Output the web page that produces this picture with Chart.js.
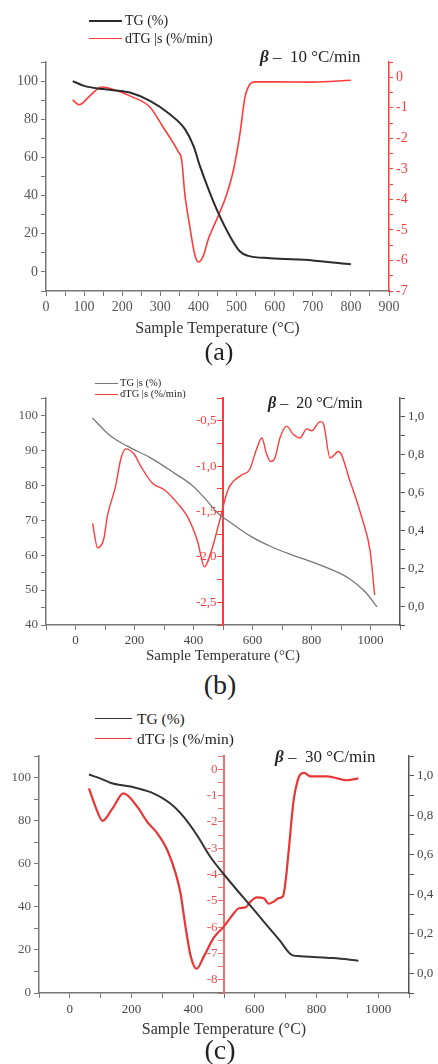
<!DOCTYPE html>
<html><head><meta charset="utf-8">
<script src="https://cdn.jsdelivr.net/npm/chart.js@4"></script>
<style>
html,body{margin:0;padding:0;background:#fff;}
body{width:438px;height:1064px;position:relative;overflow:hidden;font-family:'Liberation Serif','Times New Roman',serif;}
canvas{position:absolute;left:0;}
.t{position:absolute;white-space:nowrap;line-height:1;color:#222;transform:translateY(-50%);z-index:2;}
.c{transform:translate(-50%,-50%);}
.lg{position:absolute;height:0;z-index:2;}
.b{font-weight:bold;font-style:italic;}
</style></head><body>
<canvas id="ca"></canvas>
<canvas id="cb"></canvas>
<canvas id="cc"></canvas>

<!-- panel a texts -->
<div class="lg" style="left:89px;top:20px;width:33px;border-top:2px solid #2b2b2b"></div>
<div class="t" style="left:125px;top:21px;font-size:14px">TG (%)</div>
<div class="lg" style="left:89px;top:38px;width:33px;border-top:1.5px solid #ff3b3b"></div>
<div class="t" style="left:125px;top:39px;font-size:14px">dTG |s (%/min)</div>
<div class="t" style="left:260px;top:56px;font-size:17px"><span class="b">β</span> –&nbsp; 10 °C/min</div>
<div class="t c" style="left:219px;top:352px;font-size:26px">(a)</div>

<!-- panel b texts -->
<div class="lg" style="left:95px;top:383px;width:23px;border-top:1px solid #777"></div>
<div class="t" style="left:120px;top:383px;font-size:10.5px">TG |s (%)</div>
<div class="lg" style="left:95px;top:394px;width:23px;border-top:1px solid #ff3b3b"></div>
<div class="t" style="left:120px;top:394px;font-size:10.5px">dTG |s (%/min)</div>
<div class="t" style="left:268px;top:403px;font-size:16px"><span class="b">β</span> –&nbsp; 20 °C/min</div>
<div class="t c" style="left:220px;top:685px;font-size:28px">(b)</div>

<!-- panel c texts -->
<div class="lg" style="left:95px;top:718px;width:37px;border-top:1px solid #333"></div>
<div class="t" style="left:137px;top:719px;font-size:15.5px">TG (%)</div>
<div class="lg" style="left:95px;top:738px;width:37px;border-top:1px solid #e33"></div>
<div class="t" style="left:137px;top:739px;font-size:15.5px">dTG |s (%/min)</div>
<div class="t" style="left:275px;top:756px;font-size:17px"><span class="b">β</span> –&nbsp; 30 °C/min</div>
<div class="t c" style="left:220px;top:1050px;font-size:28px">(c)</div>

<script>
// ---------- DATA ----------
// Panel (a) beta = 10 °C/min
const tA_TG  = [70,100,150,220,273,325,365,387,404,430,452,483,509,531,588,700,800];
const tgA    = [100,97.5,95.8,94.0,89.6,82.6,74.7,66,55.4,41.4,30.9,18.6,10.7,8.4,7.2,6,4];
const tA_DTG = [70,87,115,146,177,220,273,307,347,356,364,377,391,400,413,426,452,474,492,509,522,535,548,600,700,800];
const dtgA   = [-0.74,-0.9,-0.61,-0.32,-0.4,-0.61,-0.98,-1.63,-2.44,-2.71,-3.79,-4.87,-5.84,-6.05,-5.84,-5.3,-4.54,-3.84,-3.03,-1.84,-0.66,-0.23,-0.15,-0.15,-0.16,-0.1];

// Panel (b) beta = 20 °C/min
const tB_TG  = [57,119,176,256,335,392,437,483,528,596,664,733,801,858,926,982,1022];
const tgB    = [99.3,94.1,91.2,87.8,83.5,80.2,76.4,72,69.2,65.3,62.4,60.1,58.1,56.2,53.4,49.5,45.2];
const tB_DTG = [58,75,96,108,136,153,170,199,221,261,301,346,380,414,437,460,488,517,562,590,613,632,647,662,676,693,716,738,761,784,801,829,840,863,892,931,971,999,1014];
const dtgB   = [-1.63,-1.9,-1.8,-1.55,-1.22,-0.93,-0.81,-0.87,-1.0,-1.19,-1.26,-1.41,-1.56,-1.83,-2.11,-1.94,-1.61,-1.26,-1.1,-1.04,-0.82,-0.69,-0.86,-0.95,-0.91,-0.69,-0.56,-0.65,-0.69,-0.59,-0.61,-0.51,-0.53,-0.91,-0.84,-1.17,-1.57,-1.94,-2.42];

// Panel (c) beta = 30 °C/min
const tC_TG  = [62,100,133,197,262,327,370,413,456,500,600,680,721,748,855,936];
const tgC    = [101.4,99.5,97.5,95.8,93.2,87.8,81.6,73.1,63.1,55,38.1,24.5,17.6,17.1,16.2,15];
const tC_DTG = [62,84,106,138,174,219,251,284,316,343,359,375,392,411,435,467,500,532,548,570,586,607,629,645,661,677,691,699,710,726,739,748,760,780,834,899,936];
const dtgC   = [-0.73,-1.45,-1.96,-1.5,-0.92,-1.43,-2.0,-2.44,-3.07,-3.95,-4.71,-5.97,-7.1,-7.58,-7.1,-6.4,-5.97,-5.47,-5.28,-5.25,-5.03,-4.87,-4.9,-5.11,-5.03,-4.9,-4.84,-4.33,-3.07,-1.17,-0.42,-0.19,-0.14,-0.27,-0.27,-0.42,-0.35];

const xTitle = 'Sample Temperature (°C)';
const legendTG = ['TG (%)','TG |s (%)','TG (%)'];
const legendDTG = 'dTG |s (%/min)';

// ---------- HELPERS ----------
Chart.defaults.font.family = "'Liberation Serif','Times New Roman',serif";
const GREY='#777', TXT='#555', RED='#ff3b3b';
const pts = (xs, ys) => xs.map((x,i)=>({x, y: ys[i]}));
const comma = v => (Math.abs(v)<1e-9 ? 0 : v).toFixed(1).replace('.', ',');
const isMult = (v, m) => Math.abs(v/m - Math.round(v/m)) < 1e-6;

function axisStyle(color, labelColor, size, tl, pad) {
  return {
    grid: {display:true, drawOnChartArea:false, drawTicks:true, tickLength:tl, color:color, lineWidth:1},
    border: {display:true, color:color, width:1.5},
    ticks: {color:labelColor, font:{size:size}, padding:pad, autoSkip:false, maxRotation:0, includeBounds:false}
  };
}
function merge(a, b) {
  const o = Object.assign({}, a, b);
  o.ticks = Object.assign({}, a.ticks, b.ticks||{});
  o.grid = Object.assign({}, a.grid, b.grid||{});
  o.border = Object.assign({}, a.border, b.border||{});
  return o;
}

function panel(id, g, datasets, scales) {
  const cv = document.getElementById(id);
  cv.width = 438; cv.height = g.H;
  cv.style.top = g.top + 'px';
  const half = g.titleSize*1.2/2;
  const xH = g.titleY + half - g.areaBottom;
  const padTop = g.areaTop - g.top;
  const padBottom = g.H - padTop - (g.areaBottom - g.areaTop) - xH;
  scales.x.afterFit = s => { s.height = xH; };
  scales.x.title = {display:true, text:xTitle, color:'#333', font:{size:g.titleSize}, padding:0};
  scales.yL.afterFit = s => { s.width = g.areaLeft; };
  scales.yRight.afterFit = s => { s.width = 438 - g.areaRight; };
  new Chart(cv, {
    type:'line',
    data:{datasets},
    options:{
      responsive:false, animation:false, devicePixelRatio:1,
      layout:{padding:{top:padTop, bottom:padBottom, left:0, right:0}},
      plugins:{legend:{display:false}, tooltip:{enabled:false}},
      elements:{point:{radius:0}, line:{cubicInterpolationMode:'monotone'}},
      scales
    }
  });
}

// ---------- PANEL A ----------
panel('ca', {top:0, H:345, areaTop:62, areaBottom:291, areaLeft:46, areaRight:389, titleY:329, titleSize:16}, [
  {label:legendTG[0], data:pts(tA_TG,tgA), borderColor:'#2b2b2b', borderWidth:2, yAxisID:'yL'},
  {label:legendDTG, data:pts(tA_DTG,dtgA), borderColor:RED, borderWidth:1.6, yAxisID:'yRight'}
], {
  x: merge(axisStyle(GREY,TXT,14,5,3), {type:'linear', min:0, max:900, ticks:{stepSize:50, callback:v=>isMult(v,100)?v:''}}),
  yL: merge(axisStyle(GREY,TXT,14,5,3), {type:'linear', position:'left', min:-10, max:110, ticks:{stepSize:10, callback:v=>(isMult(v,20)&&v>=0&&v<=100)?v:''}}),
  yRight: merge(axisStyle(RED,RED,14,4,3), {type:'linear', position:'right', min:-7, max:0.5, ticks:{stepSize:0.5, callback:v=>isMult(v,1)?Math.round(v):''}})
});

// ---------- PANEL B ----------
panel('cb', {top:362, H:305, areaTop:398, areaBottom:625, areaLeft:46, areaRight:400, titleY:656, titleSize:15}, [
  {label:legendTG[1], data:pts(tB_TG,tgB), borderColor:'#777', borderWidth:1.3, yAxisID:'yL'},
  {label:legendDTG, data:pts(tB_DTG,dtgB), borderColor:RED, borderWidth:1.4, yAxisID:'yC'}
], {
  x: merge(axisStyle(GREY,'#444',13,5,3), {type:'linear', min:-100, max:1100, ticks:{stepSize:100, callback:v=>isMult(v,200)?v:''}}),
  yL: merge(axisStyle(GREY,TXT,13,5,3), {type:'linear', position:'left', min:40, max:105, ticks:{stepSize:5, callback:v=>isMult(v,10)?v:''}}),
  yC: merge(axisStyle(RED,RED,13,5,3), {type:'linear', position:{x:500}, min:-2.75, max:-0.25, border:{width:2}, ticks:{stepSize:0.25, callback:v=>isMult(v,0.5)?comma(v)+'  ':''}}),
  yRight: merge(axisStyle('#555','#444',13,5,3), {type:'linear', position:'right', min:-0.1, max:1.1, ticks:{stepSize:0.1, callback:v=>isMult(v,0.2)?comma(v):''}})
});

// ---------- PANEL C ----------
panel('cc', {top:745, H:300, areaTop:756, areaBottom:993, areaLeft:39, areaRight:409, titleY:1030, titleSize:16}, [
  {label:legendTG[2], data:pts(tC_TG,tgC), borderColor:'#333', borderWidth:2, yAxisID:'yL'},
  {label:legendDTG, data:pts(tC_DTG,dtgC), borderColor:'#e83535', borderWidth:2.2, yAxisID:'yC'}
], {
  x: merge(axisStyle(GREY,'#444',13,5,4), {type:'linear', min:-100, max:1100, ticks:{stepSize:100, callback:v=>isMult(v,200)?v:''}}),
  yL: merge(axisStyle(GREY,TXT,13,5,3), {type:'linear', position:'left', min:0, max:110, ticks:{stepSize:10, callback:v=>isMult(v,20)?v:''}}),
  yC: merge(axisStyle('#f07070','#e85050',13,5,3), {type:'linear', position:{x:500}, min:-8.5, max:0.5, border:{width:2}, ticks:{stepSize:0.5, callback:v=>isMult(v,1)?Math.round(v)+'  ':''}}),
  yRight: merge(axisStyle('#555','#444',13,5,3), {type:'linear', position:'right', min:-0.1, max:1.1, ticks:{stepSize:0.1, callback:v=>isMult(v,0.2)?comma(v):''}})
});
</script>
</body></html>
